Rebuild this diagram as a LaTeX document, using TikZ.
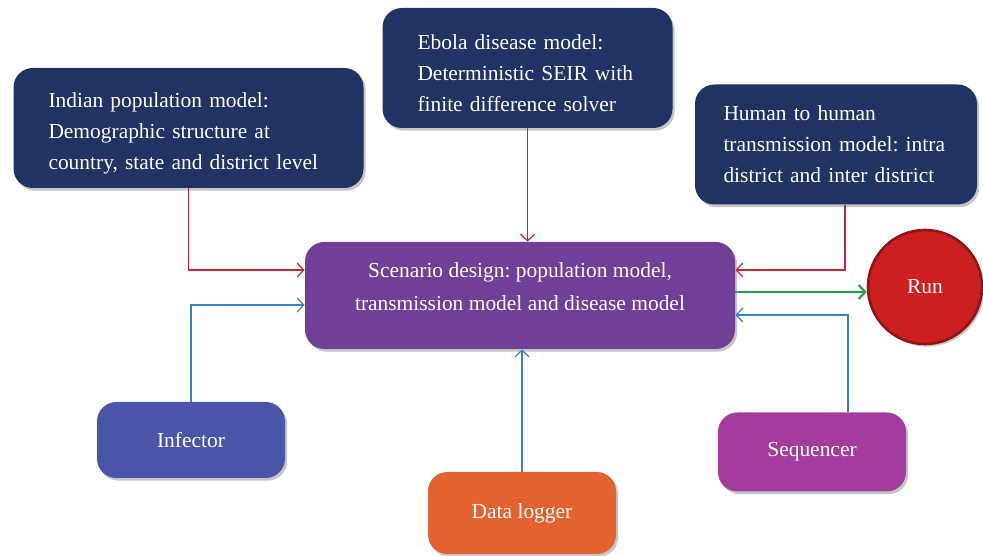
\documentclass[tikz,border=0pt]{standalone}
\usepackage{fontspec}
\setmainfont{Liberation Serif}
\usetikzlibrary{arrows.meta,shadows}

\definecolor{navybox}{RGB}{33,50,101}
\definecolor{scenpurple}{RGB}{112,64,152}
\definecolor{infblue}{RGB}{74,84,168}
\definecolor{logorange}{RGB}{226,98,48}
\definecolor{seqmagenta}{RGB}{163,60,156}
\definecolor{runred}{RGB}{204,32,32}
\definecolor{linkred}{RGB}{196,40,46}
\definecolor{linkblue}{RGB}{58,128,200}
\definecolor{linkgreen}{RGB}{38,160,80}

\begin{document}
\begin{tikzpicture}[
        box/.style={rounded corners=11pt, text=white, font=\fontsize{12.2}{17.6}\selectfont\frenchspacing,
                    drop shadow={shadow xshift=1.2pt, shadow yshift=-1.5pt, opacity=0.45}},
        modelbox/.style={box, fill=navybox, align=left, inner xsep=0.7cm, minimum height=2.4cm},
        smallbox/.style={box, minimum width=3.76cm, align=center},
        link/.style={line width=0.7pt, -{Straight Barb[length=3.8pt,width=8pt]}},
    ]
        %\draw[step=1cm,gray,very thin] (0,0) grid (20,11);
        \useasboundingbox (0,0) rectangle (19.66,11.12);

        \node[modelbox, text width=5.6cm] (indian_box) at (3.77,8.56)
            {\rule{0pt}{0.5cm}Indian population model:\\Demographic structure at\\country, state and district level};
        \node[modelbox, text width=4.4cm] (ebola_box) at (10.55,9.76)
            {\rule{0pt}{0.52cm}Ebola disease model:\\Deterministic SEIR with\\finite difference solver};
        \node[modelbox, text width=4.5cm, inner xsep=0.57cm] (human_box) at (16.72,8.23)
            {Human to human\\transmission model: intra\\district and inter district};

        \node[box, fill=scenpurple, minimum width=8.6cm, minimum height=2.14cm,
              align=center, font=\fontsize{12.2}{18.8}\selectfont\frenchspacing] (scenario_box) at (10.4,5.21)
            {Scenario design: population model,\\transmission model and disease model\rule[-0.37cm]{0pt}{0.37cm}};

        \node[circle, fill=runred, draw=runred!70!black, line width=1.5pt,
              minimum size=2.28cm, text=white, font=\fontsize{12.2}{15}\selectfont,
              drop shadow={shadow xshift=1.2pt, shadow yshift=-1.5pt, opacity=0.45}] (run_ball) at (18.5,5.38) {Run};

        \node[smallbox, fill=infblue, minimum height=1.52cm] (infector_box) at (3.82,2.32) {Infector};
        \node[smallbox, fill=logorange, minimum height=1.64cm] (logger_box) at (10.44,0.86) {Data logger};
        \node[smallbox, fill=seqmagenta, minimum height=1.58cm] (sequencer_box) at (16.24,2.08) {Sequencer};

        % models into the scenario
        \draw[link, linkred] (indian_box.south) |- ([yshift=0.51cm]scenario_box.west);
        \draw[link, linkred] (ebola_box.south) -- (ebola_box.south |- scenario_box.north);
        \draw[link, linkred] ([xshift=0.18cm]human_box.south) |- ([yshift=0.51cm]scenario_box.east);

        % tools into the scenario
        \draw[link, linkblue] (infector_box.north) |- ([yshift=-0.19cm]scenario_box.west);
        \draw[link, linkblue] (logger_box.north) -- (logger_box.north |- scenario_box.south);
        \draw[link, linkblue] ([xshift=0.72cm]sequencer_box.north) |- ([yshift=-0.39cm]scenario_box.east);

        \coordinate (run_start) at ([yshift=0.07cm]scenario_box.east);
        \draw[link, linkgreen, line width=1.2pt] (run_start) -- (run_start -| run_ball.west);
\end{tikzpicture}
\end{document}
